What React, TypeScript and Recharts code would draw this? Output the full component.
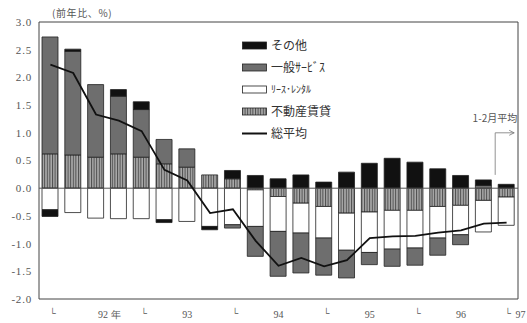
import React from 'react'
import { ComposedChart, Bar, Line, XAxis, YAxis, ReferenceLine, ReferenceArea, Legend } from 'recharts'

// 92Q1 .. 96Q4, then 97 (1-2月平均)
const periods = [
  '92Q1', '92Q2', '92Q3', '92Q4',
  '93Q1', '93Q2', '93Q3', '93Q4',
  '94Q1', '94Q2', '94Q3', '94Q4',
  '95Q1', '95Q2', '95Q3', '95Q4',
  '96Q1', '96Q2', '96Q3', '96Q4',
  '97/1-2',
]
const tickLabels = ['└', '', '92 年', '', '└', '', '93', '', '└', '', '94', '', '└', '', '95', '', '└', '', '96', '', '└ 97']
const yTicks = [-2, -1.5, -1, -0.5, 0, 0.5, 1, 1.5, 2, 2.5, 3]

const estate = [0.62, 0.6, 0.56, 0.62, 0.56, 0.44, 0.38, 0.24, 0.17, -0.03, -0.15, -0.27, -0.33, -0.45, -0.43, -0.4, -0.4, -0.33, -0.31, -0.22, -0.16]
const lease = [-0.39, -0.44, -0.54, -0.55, -0.55, -0.57, -0.6, -0.69, -0.66, -0.66, -0.63, -0.54, -0.57, -0.67, -0.73, -0.7, -0.68, -0.57, -0.53, -0.57, -0.51]
const general = [2.11, 1.87, 1.31, 1.04, 0.86, 0.44, 0.33, 0, -0.06, -0.54, -0.81, -0.72, -0.67, -0.5, -0.22, -0.31, -0.31, -0.31, -0.18, 0.05, 0]
const other = [-0.12, 0.04, 0, 0.12, 0.14, -0.05, 0, -0.06, 0.15, 0.23, 0.17, 0.24, 0.11, 0.29, 0.45, 0.54, 0.47, 0.35, 0.23, 0.1, 0.07]
const average = [2.23, 2.08, 1.33, 1.22, 1.03, 0.33, 0.14, -0.45, -0.38, -0.95, -1.4, -1.26, -1.41, -1.3, -0.9, -0.87, -0.86, -0.8, -0.76, -0.64, -0.62]

const noteLow = 0.24
const noteHigh = 1.0

const data = periods.map((p, i) => ({
  period: p,
  estate: estate[i],
  lease: lease[i],
  general: general[i],
  other: other[i],
  average: average[i],
}))

const INK = '#222'
const TEXT = '#555'
const DARK = '#6e6e6e'
const JP = '"Noto Sans CJK JP", sans-serif'
const SERIF = '"Liberation Serif", serif'

function Stripes({ id }: { id: string }) {
  return (
    <pattern id={id} width={2.6} height={4} patternUnits="userSpaceOnUse">
      <rect width={2.6} height={4} fill="#a9a9a9" />
      <rect width={1} height={4} fill="#4d4d4d" />
    </pattern>
  )
}

function Swatch({ kind }: { kind: string }) {
  if (kind === 'line') {
    return (
      <svg width={25} height={9} style={{ display: 'block' }}>
        <line x1={0} y1={4.5} x2={25} y2={4.5} stroke="#111" strokeWidth={2} />
      </svg>
    )
  }
  const fill = kind === 'other' ? '#111' : kind === 'general' ? DARK : kind === 'lease' ? '#fff' : 'url(#lgStripe)'
  return (
    <svg width={25} height={9} style={{ display: 'block' }}>
      {kind === 'estate' && <defs><Stripes id="lgStripe" /></defs>}
      <rect x={0.5} y={1} width={24} height={7} fill={fill} stroke={INK} strokeWidth={0.8} />
    </svg>
  )
}

const legendItems = [
  { kind: 'other', label: 'その他' },
  { kind: 'general', label: '一般ｻｰﾋﾞｽ' },
  { kind: 'lease', label: 'ﾘｰｽ･ﾚﾝﾀﾙ' },
  { kind: 'estate', label: '不動産賃貸' },
  { kind: 'line', label: '総平均' },
]

function LegendBox() {
  return (
    <div>
      {legendItems.map((it) => (
        <div key={it.kind} style={{ display: 'flex', alignItems: 'center', height: 22 }}>
          <Swatch kind={it.kind} />
          <span style={{ marginLeft: 4, fontSize: it.kind === 'lease' ? 10 : 12, color: '#333', fontFamily: JP, lineHeight: 1 }}>
            {it.label}
          </span>
        </div>
      ))}
    </div>
  )
}

function XTick(props: any) {
  const { x, y, payload } = props
  const label = tickLabels[periods.indexOf(payload.value)] || ''
  if (!label) return null
  const base = y + 11
  if (label.includes('97')) {
    return (
      <g>
        <text x={x + 1} y={base - 2} textAnchor="middle" fontSize={9} fill={TEXT} fontFamily={SERIF}>└</text>
        <text x={x + 9} y={base} textAnchor="start" fontSize={10} fill={TEXT} fontFamily={SERIF}>97</text>
      </g>
    )
  }
  if (label === '└') {
    return <text x={x + 2} y={base - 2} textAnchor="middle" fontSize={9} fill={TEXT} fontFamily={SERIF}>{label}</text>
  }
  if (label.includes('年')) {
    return <text x={x + 2} y={base} textAnchor="start" fontSize={10} fill={TEXT} fontFamily={SERIF}>{label}</text>
  }
  return <text x={x} y={base} textAnchor="middle" fontSize={10} fill={TEXT} fontFamily={SERIF}>{label}</text>
}

function ArrowNote(props: any) {
  const { x1, y1, y2 } = props
  const x = x1
  const top = Math.min(y1, y2)
  const bottom = Math.max(y1, y2)
  const end = x + 19
  return (
    <g>
      <path d={`M${x},${bottom} L${x},${top} L${end},${top}`} fill="none" stroke="#777" strokeWidth={0.8} />
      <path d={`M${end - 5},${top - 2.5} L${end},${top} L${end - 5},${top + 2.5}`} fill="none" stroke="#777" strokeWidth={0.8} />
      <text x={end + 3} y={top - 11} textAnchor="end" fontSize={10} fill={TEXT} fontFamily={JP}>1-2月平均</text>
    </g>
  )
}

export default function App() {
  return (
    <div style={{ position: 'fixed', left: 0, top: 0, width: 527, height: 323, background: '#fff' }}>
      <div style={{ position: 'absolute', left: 52, top: 8, fontSize: 10, letterSpacing: 0.6, color: TEXT, fontFamily: JP, lineHeight: 1 }}>
        (前年比、%)
      </div>
      <ComposedChart
        width={527}
        height={323}
        data={data}
        stackOffset="sign"
        margin={{ top: 22, right: 9, bottom: 0, left: 0 }}
        barCategoryGap={0}
      >
        <defs>
          <Stripes id="barStripe" />
        </defs>
        <XAxis dataKey="period" height={24} axisLine={false} tickLine={false} interval={0} tick={<XTick />} />
        <YAxis
          width={39}
          domain={[-2, 3]}
          ticks={yTicks}
          axisLine={false}
          tickLine={false}
          tickSize={0}
          tickMargin={7}
          tickFormatter={(v: number) => v.toFixed(1)}
          tick={{ fontSize: 11, fill: TEXT, fontFamily: SERIF, letterSpacing: 0.8 }}
          allowDataOverflow
        />
        <ReferenceArea y1={-2} y2={3} fill="none" stroke="#444" strokeWidth={1} />
        <Bar dataKey="estate" stackId="s" barSize={16} fill="url(#barStripe)" stroke={INK} strokeWidth={0.8} isAnimationActive={false} />
        <Bar dataKey="lease" stackId="s" barSize={16} fill="#fff" stroke={INK} strokeWidth={0.8} isAnimationActive={false} />
        <Bar dataKey="general" stackId="s" barSize={16} fill={DARK} stroke={INK} strokeWidth={0.8} isAnimationActive={false} />
        <Bar dataKey="other" stackId="s" barSize={16} fill="#111" stroke={INK} strokeWidth={0.8} isAnimationActive={false} />
        <ReferenceLine y={0} stroke="#555" strokeWidth={1} />
        <ReferenceLine
          segment={[{ x: periods[periods.length - 1], y: noteLow }, { x: periods[periods.length - 1], y: noteHigh }]}
          position="start"
          shape={<ArrowNote />}
        />
        <Line dataKey="average" type="linear" stroke="#111" strokeWidth={1.8} dot={false} isAnimationActive={false} />
        <Legend
          layout="vertical"
          align="center"
          verticalAlign="middle"
          content={<LegendBox />}
          wrapperStyle={{ left: 242, top: 34, width: 130, height: 110 }}
        />
      </ComposedChart>
    </div>
  )
}
